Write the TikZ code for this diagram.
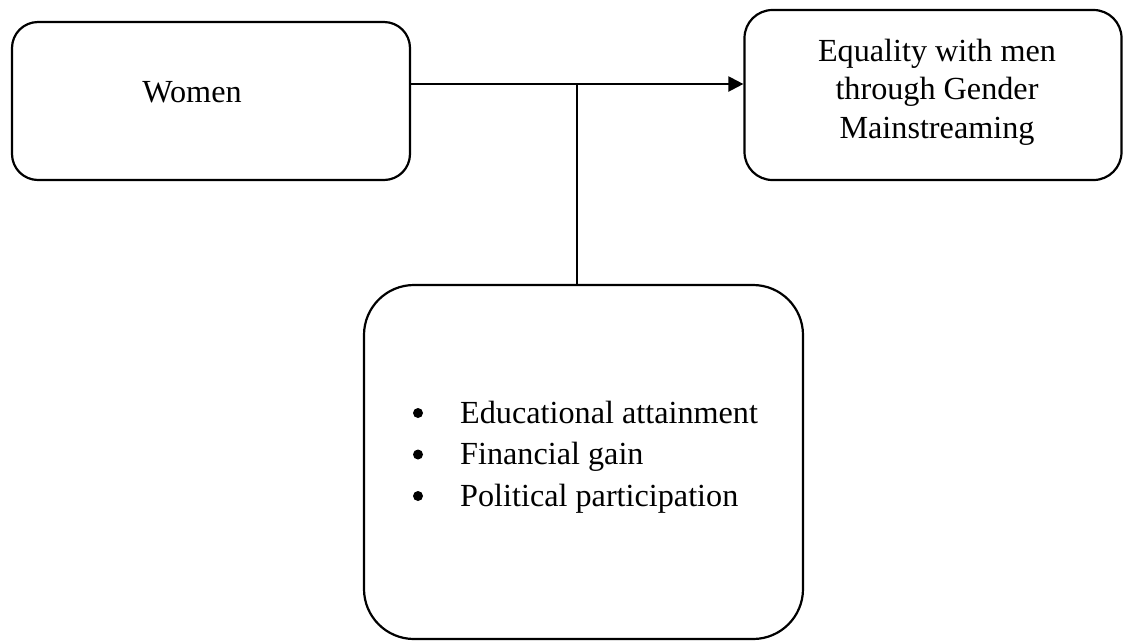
\documentclass[tikz,border=0pt]{standalone}
\usepackage{fontspec}
\setmainfont{Liberation Serif}
\usetikzlibrary{arrows.meta}
\begin{document}
\begin{tikzpicture}[x=1pt,y=-1pt,
  box/.style={draw=black,line width=2.2pt,rectangle,inner sep=0pt},
  txt/.style={font=\fontsize{32.2}{38.5}\selectfont,inner sep=0pt},
  conn/.style={draw=black,line width=2.2pt},
  arr/.style={conn,-{Triangle[length=15pt,width=15pt]}}]
\useasboundingbox (0,0) rectangle (1124,641);
% boxes
\node[box,rounded corners=26pt,minimum width=398pt,minimum height=158pt] (women) at (211,101) {};
\node[box,rounded corners=28pt,minimum width=377pt,minimum height=170pt] (goal) at (933,95) {};
\node[box,rounded corners=50pt,minimum width=439pt,minimum height=354pt] (list) at (583.5,462) {};
% texts
\node[txt,anchor=base] (womentext) at (192,102) {Women};
\node[txt,align=center] (goaltext) at (937,92) {Equality with men\\through Gender\\Mainstreaming};
\node[txt,anchor=base west] (l1) at (460,423) {Educational attainment};
\node[txt,anchor=base west] (l2) at (460,464.5) {Financial gain};
\node[txt,anchor=base west] (l3) at (460,506) {Political participation};
\foreach \n in {l1,l2,l3}{
  \fill ([yshift=10pt]\n.base west) ++(-42pt,0) coordinate (b-\n) circle (5pt);
}
% connectors
\coordinate (j) at (577,84);
\draw[arr] (women.east |- j) -- (goal.west |- j);
\draw[conn] (j) -- (j |- list.north);
\end{tikzpicture}
\end{document}
